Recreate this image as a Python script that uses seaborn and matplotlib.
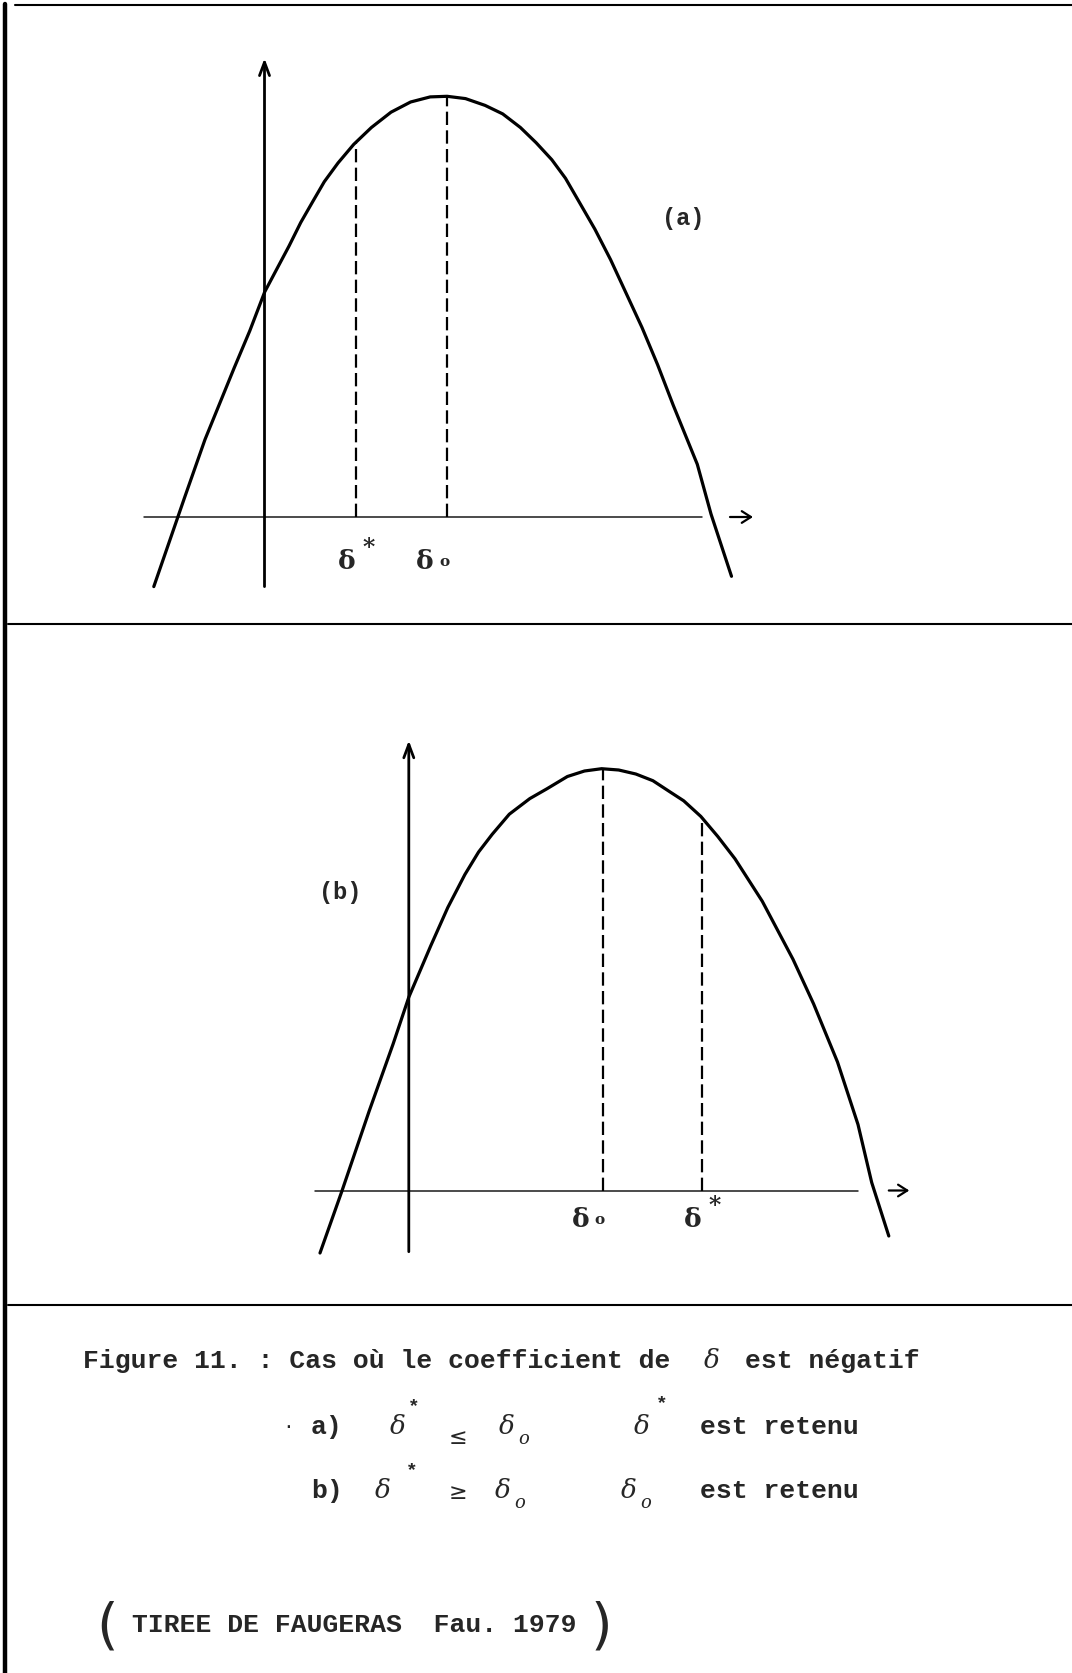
import matplotlib
matplotlib.use("Agg")
import matplotlib.pyplot as plt
from matplotlib.lines import Line2D
import pandas as pd
import seaborn as sns

# ---------------------------------------------------------------------------
# Data: coordinates measured from the intersection of the two axes,
# x to the right, y upwards (1 unit = 100 px).
# ---------------------------------------------------------------------------
curve_a_x = [-1.107, -0.799, -0.595, -0.304, -0.147, 0.002, 0.128, 0.245,
             0.363, 0.48, 0.598, 0.735, 0.892, 1.069, 1.265, 1.461, 1.657,
             1.826, 2.01, 2.206, 2.382, 2.559, 2.716, 2.873, 3.01, 3.147,
             3.304, 3.461, 3.618, 3.775, 3.931, 4.088, 4.328, 4.465, 4.67]
curve_a_y = [-0.696, 0.195, 0.775, 1.489, 1.862, 2.251, 2.489, 2.709,
             2.946, 3.15, 3.353, 3.54, 3.726, 3.895, 4.048, 4.15, 4.201,
             4.207, 4.184, 4.116, 4.031, 3.895, 3.743, 3.573, 3.387, 3.15,
             2.878, 2.573, 2.234, 1.895, 1.523, 1.116, 0.527, 0.03, -0.593]

curve_b_x = [-0.888, -0.67, -0.396, -0.157, 0.0, 0.219, 0.39, 0.561, 0.698,
             0.834, 1.005, 1.21, 1.381, 1.586, 1.757, 1.928, 2.099, 2.27,
             2.441, 2.612, 2.749, 2.92, 3.09, 3.262, 3.535, 3.842, 4.048,
             4.287, 4.492, 4.629, 4.8]
curve_b_y = [-0.625, -0.009, 0.795, 1.465, 1.933, 2.446, 2.83, 3.16, 3.385,
             3.562, 3.763, 3.919, 4.017, 4.14, 4.195, 4.218, 4.205, 4.165,
             4.098, 3.986, 3.897, 3.741, 3.54, 3.317, 2.892, 2.312, 1.866,
             1.285, 0.66, 0.08, -0.455]

# vertical reference lines: abscissa and height where they meet the curve
marks_a_name = ["δ*", "δo"]
marks_a_x = [0.91, 1.826]
marks_a_top = [3.74, 4.207]

marks_b_name = ["δo", "δ*"]
marks_b_x = [1.94, 2.933]
marks_b_top = [4.218, 3.73]

caption_title = "Figure 11. : Cas où le coefficient de"
caption_tail = "est négatif"
source_text = "TIREE DE FAUGERAS  Fau. 1979"

# ---------------------------------------------------------------------------
W, H = 1072, 1673
sns.set_theme(style="white")
plt.rcParams["font.family"] = ["DejaVu Sans"]
fig = plt.figure(figsize=(W / 100, H / 100), dpi=100, facecolor="white")

MONO = "Liberation Mono"
SERIF = "DejaVu Serif"


def fx(x):
    return x / W


def fy(y):
    return 1 - y / H


def put(x, y, s, **kw):
    fig.text(fx(x), fy(y), s, **kw)


def panel(top, bottom, ox, oy):
    """Axes covering a horizontal band of the page, origin at pixel (ox, oy)."""
    ax = fig.add_axes([0, fy(bottom), 1, (bottom - top) / H])
    ax.set_xlim(-ox / 100, (W - ox) / 100)
    ax.set_ylim((oy - bottom) / 100, (oy - top) / 100)
    ax.set_axis_off()
    return ax


def draw_panel(ax, cx, cy, mx, mtop, names, yaxis, xaxis, xarrow, label_y):
    # horizontal axis and its small arrow
    ax.plot(xaxis, [0, 0], color="#1a1a1a", lw=1.1)
    ax.annotate("", xy=(xarrow[1], 0), xytext=(xarrow[0], 0),
                arrowprops=dict(arrowstyle="->,head_length=0.55,head_width=0.35",
                                lw=1.6, color="black", shrinkA=0, shrinkB=0))
    # vertical axis
    ax.annotate("", xy=(0, yaxis[1]), xytext=(0, yaxis[0]),
                arrowprops=dict(arrowstyle="->,head_length=0.8,head_width=0.3",
                                lw=2.0, color="black", shrinkA=0, shrinkB=0))
    # the curve
    df = pd.DataFrame({"x": cx, "y": cy})
    sns.lineplot(data=df, x="x", y="y", ax=ax, sort=False, estimator=None,
                 color="black", lw=2.3)
    # dashed reference lines
    ax.vlines(mx, 0, mtop, colors="black", lw=1.6, linestyles=(0, (6, 2.4)))
    # their labels
    for x, name in zip(mx, names):
        if name.endswith("*"):
            ax.text(x - 0.09, label_y, "δ", fontsize=19, fontweight="bold",
                    family=SERIF, ha="center", va="center")
            ax.text(x + 0.13, label_y + 0.14, "*", fontsize=17,
                    fontweight="bold", family=SERIF, ha="center", va="center")
        else:
            ax.text(x - 0.22, label_y, "δ", fontsize=19, fontweight="bold",
                    family=SERIF, ha="center", va="center")
            ax.text(x - 0.03, label_y, "o", fontsize=11, fontweight="bold",
                    family=SERIF, ha="center", va="center")


# panel (a)
ax_a = panel(6, 624, 264.5, 517)
draw_panel(ax_a, curve_a_x, curve_a_y, marks_a_x, marks_a_top, marks_a_name,
           yaxis=(-0.696, 4.587), xaxis=(-1.21, 4.372), xarrow=(4.655, 4.885),
           label_y=-0.45)
ax_a.text(4.19, 2.99, "(a)", fontsize=17, fontweight="bold", family=MONO,
          ha="center", va="center")

# panel (b)
ax_b = panel(626, 1304, 408.8, 1190.5)
draw_panel(ax_b, curve_b_x, curve_b_y, marks_b_x, marks_b_top, marks_b_name,
           yaxis=(-0.612, 4.5), xaxis=(-0.943, 4.492), xarrow=(4.8, 5.005),
           label_y=-0.29)
ax_b.text(-0.69, 2.98, "(b)", fontsize=17, fontweight="bold", family=MONO,
          ha="center", va="center")

# page frame
frame = dict(transform=fig.transFigure, color="black")
fig.add_artist(Line2D([fx(5), fx(5)], [fy(4), fy(H)], lw=3.2, **frame))
fig.add_artist(Line2D([fx(15), fx(W)], [fy(5), fy(5)], lw=1.5, **frame))
fig.add_artist(Line2D([fx(8), fx(W)], [fy(624), fy(624)], lw=1.5, **frame))
fig.add_artist(Line2D([fx(8), fx(W)], [fy(1305), fy(1305)], lw=1.5, **frame))

# caption
cap = dict(fontsize=19, fontweight="bold", family=MONO, va="baseline")
sym = dict(family=SERIF, style="italic", va="baseline")
put(83, 1368, caption_title, **cap)
put(704, 1368, "δ", fontsize=19, **sym)
put(745, 1368, caption_tail, **cap)

# line a)
B2 = 1434
put(282, 1428, "·", fontsize=14, family=MONO, va="center")
put(311, B2, "a)", **cap)
put(390, B2, "δ", fontsize=19, **sym)
put(414, B2 - 27, "*", fontsize=14, fontweight="bold", family=MONO,
    ha="center", va="center")
put(458, B2 + 4, "≤", fontsize=16, family="DejaVu Sans", ha="center",
    va="center")
put(499, B2, "δ", fontsize=19, **sym)
put(518, B2 + 10, "o", fontsize=13, **sym)
put(634, B2, "δ", fontsize=19, **sym)
put(662, B2 - 30, "*", fontsize=14, fontweight="bold", family=MONO,
    ha="center", va="center")
put(700, B2, "est retenu", **cap)

# line b)
B3 = 1498
put(311, B3, "b)", **cap)
put(375, B3, "δ", fontsize=19, **sym)
put(412, B3 - 27, "*", fontsize=14, fontweight="bold", family=MONO,
    ha="center", va="center")
put(458, B3 - 5, "≥", fontsize=16, family="DejaVu Sans", ha="center",
    va="center")
put(495, B3, "δ", fontsize=19, **sym)
put(514, B3 + 10, "o", fontsize=13, **sym)
put(621, B3, "δ", fontsize=19, **sym)
put(640, B3 + 10, "o", fontsize=13, **sym)
put(700, B3, "est retenu", **cap)

# source
put(107, 1628, "(", fontsize=40, family="DejaVu Sans", ha="center",
    va="center")
put(132, 1632, source_text, **cap)
put(601, 1628, ")", fontsize=40, family="DejaVu Sans", ha="center",
    va="center")

fig.savefig("out.png", dpi=100, facecolor="white")
